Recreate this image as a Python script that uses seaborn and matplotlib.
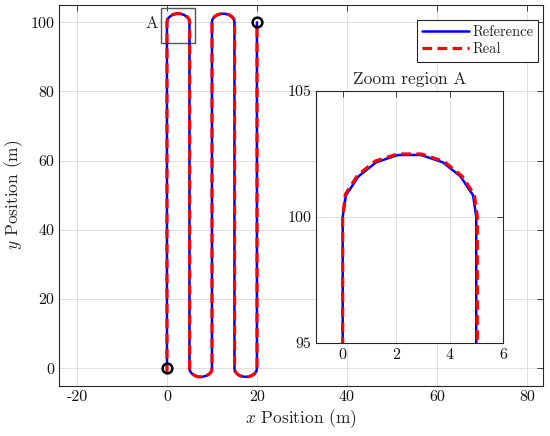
import numpy as np
import pandas as pd
import seaborn as sns
import matplotlib.pyplot as plt
from matplotlib.patches import Rectangle

# lawnmower path (m)
ref_x = [0, 0, 0.12, 0.59, 1.25, 2.07, 2.93, 3.75, 4.41, 4.88, 5,
         5, 5.12, 5.59, 6.25, 7.07, 7.93, 8.75, 9.41, 9.88, 10,
         10, 10.12, 10.59, 11.25, 12.07, 12.93, 13.75, 14.41, 14.88, 15,
         15, 15.12, 15.59, 16.25, 17.07, 17.93, 18.75, 19.41, 19.88, 20, 20]
ref_y = [0, 100, 100.86, 101.61, 102.17, 102.46, 102.46, 102.17, 101.61, 100.86, 100,
         0, -0.86, -1.61, -2.17, -2.46, -2.46, -2.17, -1.61, -0.86, 0,
         100, 100.86, 101.61, 102.17, 102.46, 102.46, 102.17, 101.61, 100.86, 100,
         0, -0.86, -1.61, -2.17, -2.46, -2.46, -2.17, -1.61, -0.86, 0, 100]

real_x = [0, 0, 0.1, 0.56, 1.22, 2.05, 2.95, 3.8, 4.47, 4.93, 5.04,
          5.04, 5.14, 5.6, 6.25, 7.07, 7.95, 8.78, 9.45, 9.92, 10.02,
          10.02, 10.12, 10.58, 11.24, 12.07, 12.95, 13.79, 14.46, 14.92, 15.03,
          15.03, 15.13, 15.59, 16.25, 17.07, 17.95, 18.78, 19.44, 19.91, 20.02, 20.02]
real_y = [-1.5, 100, 100.9, 101.66, 102.22, 102.5, 102.5, 102.2, 101.62, 100.88, 100,
          0, -0.88, -1.64, -2.2, -2.5, -2.5, -2.2, -1.64, -0.88, 0,
          100, 100.9, 101.66, 102.22, 102.5, 102.5, 102.2, 101.62, 100.88, 100,
          0, -0.88, -1.64, -2.2, -2.5, -2.5, -2.2, -1.64, -0.88, 0, 100]

start_pt = (0, 0)
end_pt = (20, 100)

ref = pd.DataFrame({"x": ref_x, "y": ref_y})
real = pd.DataFrame({"x": real_x, "y": real_y})

sns.set_style("whitegrid")
plt.rcParams['font.family'] = ['cmr10', 'DejaVu Serif']
plt.rcParams['mathtext.fontset'] = 'cm'
plt.rcParams['axes.unicode_minus'] = False
plt.rcParams['axes.formatter.use_mathtext'] = False

fig = plt.figure(figsize=(5.5, 4.36), dpi=100)
ax = fig.add_axes([0.1073, 0.1158, 0.88, 0.8727])
ins = fig.add_axes([0.5745, 0.2133, 0.34, 0.578])


def style(a):
    a.grid(True, color='#dedede', lw=0.7)
    for s in a.spines.values():
        s.set_color('#262626')
        s.set_linewidth(0.8)
    a.tick_params(direction='in', length=4.5, width=0.6, colors='#262626',
                  top=True, right=True, labelsize=11.5, labelcolor='#111111')
    a.set_facecolor('white')


def draw(a):
    sns.lineplot(data=ref, x="x", y="y", sort=False, estimator=None, ax=a,
                 color=(0, 0, 1), lw=1.8, label="Reference")
    sns.lineplot(data=real, x="x", y="y", sort=False, estimator=None, ax=a,
                 color=(1, 0, 0), lw=2.3, label="Real", dashes=False)
    a.lines[-1].set_dashes([3, 1.7])


draw(ax)
ax.plot(*start_pt, 'o', mfc='none', mec='k', ms=7, mew=1.8)
ax.plot(*end_pt, 'o', mfc='none', mec='k', ms=7, mew=1.8)
# box marking zoom region A
ax.add_patch(Rectangle((-1.3, 93.9), 7.5, 10.3, fill=False, ec='#555555', lw=1))
ax.text(-3.3, 99.6, "A", ha='center', va='center', fontsize=12)
ax.set_xlim(-24, 83.6)
ax.set_ylim(-5, 105)
ax.set_xticks([-20, 0, 20, 40, 60, 80])
ax.set_yticks([0, 20, 40, 60, 80, 100])
ax.set_xlabel("$x$ Position (m)", fontsize=12.5, labelpad=2)
ax.set_ylabel("$y$ Position (m)", fontsize=12.5, labelpad=4)
style(ax)
leg = ax.legend(loc='upper right', bbox_to_anchor=(0.99, 0.96), borderaxespad=0,
                fontsize=10.5, handlelength=3.2, fancybox=False, framealpha=1,
                edgecolor='#262626', borderpad=0.35, labelspacing=0.25,
                handletextpad=0.2)
leg.get_frame().set_linewidth(0.8)

draw(ins)
ins.get_legend().remove()
ins.set_xlim(-1, 6)
ins.set_ylim(95, 105)
ins.set_xticks([0, 2, 4, 6])
ins.set_yticks([95, 100, 105])
ins.set_xlabel("")
ins.set_ylabel("")
ins.set_title("Zoom region A", fontsize=12.5, pad=5)
style(ins)

fig.savefig("out.png", dpi=100)
